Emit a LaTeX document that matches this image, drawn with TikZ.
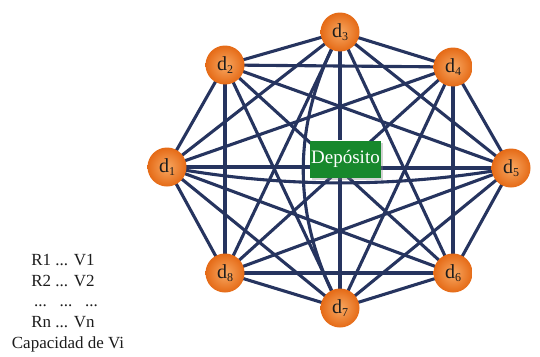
\documentclass[tikz,border=0pt]{standalone}
\usepackage{fontspec}
\setmainfont{Liberation Serif}
\usetikzlibrary{backgrounds,shadows}
\definecolor{edgeblue}{HTML}{26345F}
\definecolor{depgreen}{HTML}{17882C}
\definecolor{ballin}{HTML}{F8A862}
\definecolor{ballout}{HTML}{E56A16}
\definecolor{txt}{HTML}{1C1C1C}
\tikzset{
  ball/.style={circle, minimum size=39pt, inner sep=0pt, shading=radial,
    inner color=ballin, outer color=ballout, text=txt,
    font=\fontsize{20}{20}\selectfont},
  link/.style={draw=edgeblue, line width=3.1pt},
  depot/.style={rectangle, fill=depgreen, text=white, minimum width=71pt,
    minimum height=37pt, inner sep=0pt, font=\fontsize{19}{19}\selectfont,
    drop shadow={shadow xshift=2pt, shadow yshift=-2pt, opacity=0.35}},
  legend/.style={text=txt, font=\fontsize{17}{17}\selectfont, anchor=base, inner sep=0pt}
}
\newcommand{\dl}[1]{d\raisebox{-2.5pt}{\fontsize{12}{12}\selectfont #1}}
\begin{document}
\begin{tikzpicture}[x=1pt,y=-1pt]
\useasboundingbox (0,0) rectangle (540,356);
\node[ball] (d1) at (167,167) {\dl{1}};
\node[ball] (d2) at (225,65) {\dl{2}};
\node[ball] (d3) at (340,32) {\dl{3}};
\node[ball] (d4) at (453,67) {\dl{4}};
\node[ball] (d5) at (511,168) {\dl{5}};
\node[ball] (d6) at (453,273) {\dl{6}};
\node[ball] (d7) at (340,308) {\dl{7}};
\node[ball] (d8) at (225,273) {\dl{8}};
\node[depot] (dep) at (345.5,159) {Depósito};
\begin{pgfonlayer}{background}
  \foreach \a/\b in {d1/d2,d1/d3,d1/d4,d1/d6,d1/d7,d1/d8,
                     d2/d3,d2/d4,d2/d5,d2/d6,d2/d7,d2/d8,
                     d3/d4,d3/d5,d3/d6,d3/d8,
                     d4/d5,d4/d6,d4/d7,d4/d8,
                     d5/d6,d5/d7,d5/d8,
                     d6/d7,d6/d8,
                     d7/d8}
    \draw[link] (\a.center) -- (\b.center);
  \draw[link] (d3.center) .. controls (291,124) and (291,216) .. (d7.center);
  \draw[link] (d1.center) .. controls (281,188) and (397,188) .. (d5.center);
  \draw[link] (d1.center) -- (d1 -| dep.west);
  \draw[link] (d5.center) -- (d5 -| dep.east);
  \draw[link] (d3.center) -- (d3 |- dep.north);
  \draw[link] (d7.center) -- (d7 |- dep.south);
\end{pgfonlayer}
\node[legend] (t1) at (63,265) {R1 ... V1};
\node[legend] (t2) at (63,286) {R2 ... V2};
\node[legend] (t3) at (66,306) {...\ \ \ ...\ \ \ ...};
\node[legend] (t4) at (63,327) {Rn ... Vn};
\node[legend] (t5) at (68,348) {Capacidad de Vi};
\end{tikzpicture}
\end{document}
